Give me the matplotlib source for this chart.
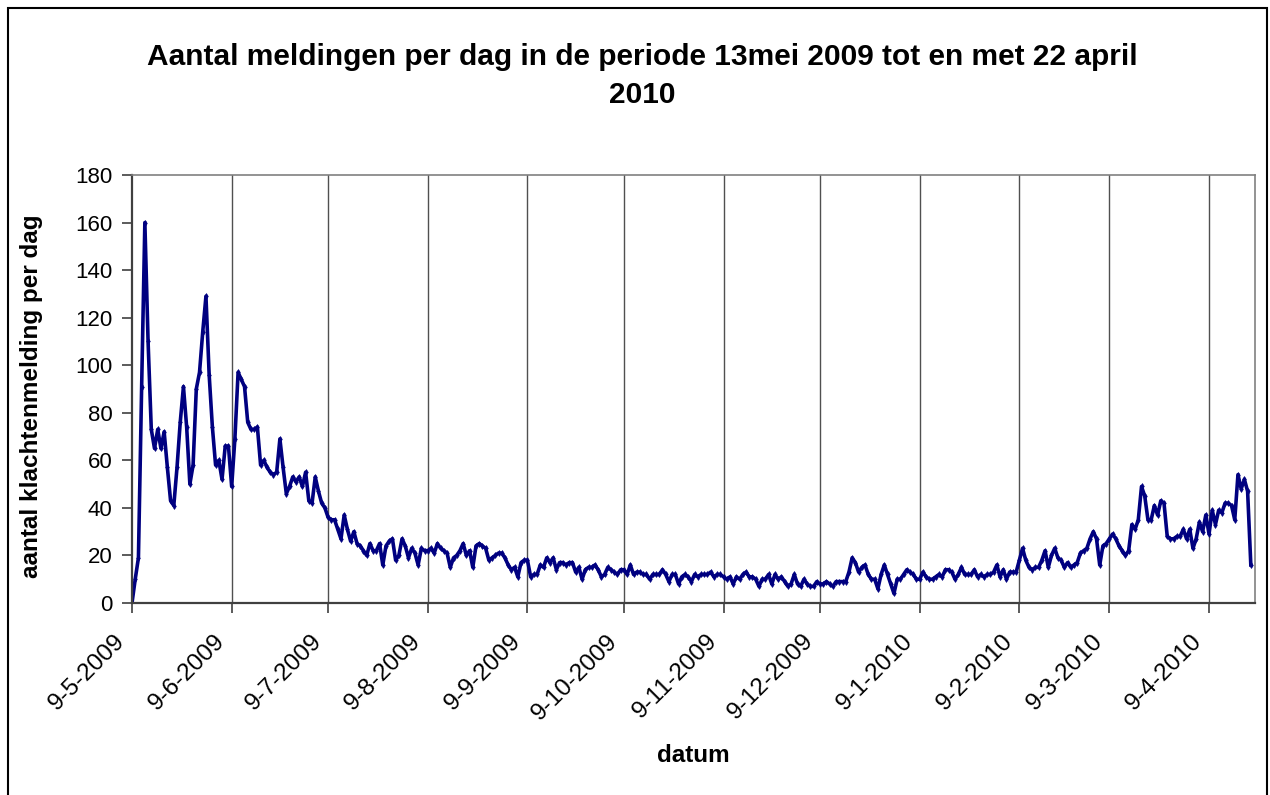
import matplotlib
matplotlib.use("Agg")
import matplotlib.pyplot as plt
import matplotlib.transforms as mtransforms
import pandas as pd
from matplotlib.patches import Rectangle

plt.rcParams['font.family'] = ['Liberation Sans', 'DejaVu Sans']

start = '2009-05-09'
# daily counts, 9-5-2009 .. 22-4-2010
may_jul = [0, 10, 19, 91, 160, 110, 73, 65, 73, 65,
           72, 57, 43, 41, 57, 76, 91, 74, 50, 58,
           90, 97, 114, 129, 96, 74, 58, 60, 52, 66,
           66, 49, 69, 97, 94, 91, 76, 73, 73, 74,
           58, 60, 57, 55, 54, 55, 69, 57, 46, 49,
           53, 51, 53, 49, 55, 43, 42, 53, 47, 42,
           40, 36, 35]
jul_sep = [35, 31, 27, 37, 31, 26, 30, 25, 24, 22,
           20, 25, 22, 22, 25, 16, 24, 26, 27, 18,
           20, 27, 24, 19, 23, 21, 16, 23, 22, 22,
           23, 21, 25, 23, 22, 21, 15, 19, 20, 22,
           25, 20, 22, 15, 24, 25, 24, 23, 18, 19,
           20, 21, 21, 19, 16, 14, 15, 11, 17, 18]
sep_nov = [18, 11, 12, 12, 16, 15, 19, 17, 19, 14,
           17, 17, 16, 17, 17, 13, 15, 10, 14, 15,
           15, 16, 14, 11, 12, 15, 14, 13, 12, 14,
           14, 12, 16, 12, 13, 13, 12, 12, 10, 12,
           12, 12, 14, 12, 9, 12, 12, 8, 11, 12,
           11, 9, 12, 11, 12, 12, 12, 13, 11, 12]
nov_jan = [12, 11, 10, 11, 8, 11, 10, 12, 13, 11,
           11, 10, 7, 10, 10, 12, 8, 12, 10, 11,
           9, 7, 8, 12, 8, 7, 10, 8, 7, 7,
           9, 8, 8, 9, 8, 7, 9, 9, 9, 9,
           13, 19, 17, 13, 15, 16, 12, 10, 10, 6,
           12, 16, 12, 8, 4, 10, 10, 12, 14, 13,
           12]
jan_mar = [10, 10, 13, 11, 10, 10, 11, 12, 11, 14,
           14, 13, 10, 12, 15, 12, 12, 12, 14, 11,
           12, 11, 12, 12, 13, 16, 11, 14, 10, 13,
           13, 13, 18, 23, 18, 15, 14, 15, 15, 18,
           22, 15, 20, 23, 19, 18, 15, 17, 15, 16,
           17, 21, 22, 23, 27, 30, 27, 16, 24, 25,
           27]
mar_apr = [29, 27, 24, 22, 20, 22, 33, 31, 35, 49,
           45, 35, 35, 41, 37, 43, 42, 28, 27, 27,
           28, 28, 31, 27, 31, 23, 27, 34, 30, 37,
           29, 39, 33, 39, 38, 42, 42, 41, 35, 54,
           48, 52, 47, 16]

counts = may_jul + jul_sep + sep_nov + nov_jan + jan_mar + mar_apr
dates = pd.date_range(start, periods=len(counts), freq='D')

month_ticks = pd.date_range('2009-05-01', '2010-04-01', freq='MS') + pd.Timedelta(days=8)
tick_labels = ['9-5-2009', '9-6-2009', '9-7-2009', '9-8-2009', '9-9-2009', '9-10-2009',
               '9-11-2009', '9-12-2009', '9-1-2010', '9-2-2010', '9-3-2010', '9-4-2010']

W, H = 1270, 795
fig = plt.figure(figsize=(W / 100, H / 100), dpi=100)
fig.patches.append(Rectangle((8 / W, -0.05), (1267 - 8) / W, 1.05 - 8 / H,
                             transform=fig.transFigure, fill=False,
                             edgecolor='black', linewidth=1.5))

ax = fig.add_axes([132 / W, (H - 603) / H, (1255 - 132) / W, (603 - 175) / H])
ax.plot(dates, counts, color='#000080', linewidth=2.6, marker='d',
        markersize=3, markeredgewidth=0.5)

ax.set_xlim(pd.Timestamp(start), pd.Timestamp(start) + pd.Timedelta(days=349.3))
ax.set_ylim(0, 180)
ax.set_yticks(range(0, 181, 20))
ax.set_xticks(month_ticks)
ax.set_xticklabels(tick_labels, rotation=45, ha='right', va='center', rotation_mode='anchor')
ax.tick_params(axis='both', labelsize=16, direction='out', length=7, width=1.2, color='#404040')
ax.tick_params(axis='x', labelsize=17.5, pad=18)
ax.tick_params(axis='y', pad=7)
shift = mtransforms.ScaledTranslation(-10 / 100, 0, fig.dpi_scale_trans)
for lab in ax.get_xticklabels():
    lab.set_transform(lab.get_transform() + shift)

for d in month_ticks[1:]:
    ax.axvline(d, color='#505050', linewidth=1.0, zorder=0)

for s in ['left', 'bottom']:
    ax.spines[s].set_color('#404040')
    ax.spines[s].set_linewidth(1.6)
for s in ['top', 'right']:
    ax.spines[s].set_color('#808080')
    ax.spines[s].set_linewidth(1.2)

ax.set_ylabel('aantal klachtenmelding per dag', fontsize=17.5, fontweight='bold', va='center')
ax.yaxis.set_label_coords((32 - 132) / (1255 - 132), (603 - 396) / (603 - 175))
ax.set_xlabel('datum', fontsize=17.5, fontweight='bold', va='center')
ax.xaxis.set_label_coords(0.5, (603 - 755) / (603 - 175))

fig.text(642 / W, 1 - 65 / H, 'Aantal meldingen per dag in de periode 13mei 2009 tot en met 22 april',
         ha='center', va='baseline', fontsize=21.5, fontweight='bold')
fig.text(642 / W, 1 - 103 / H, '2010', ha='center', va='baseline', fontsize=21.5, fontweight='bold')

fig.savefig('out.png', dpi=100)
